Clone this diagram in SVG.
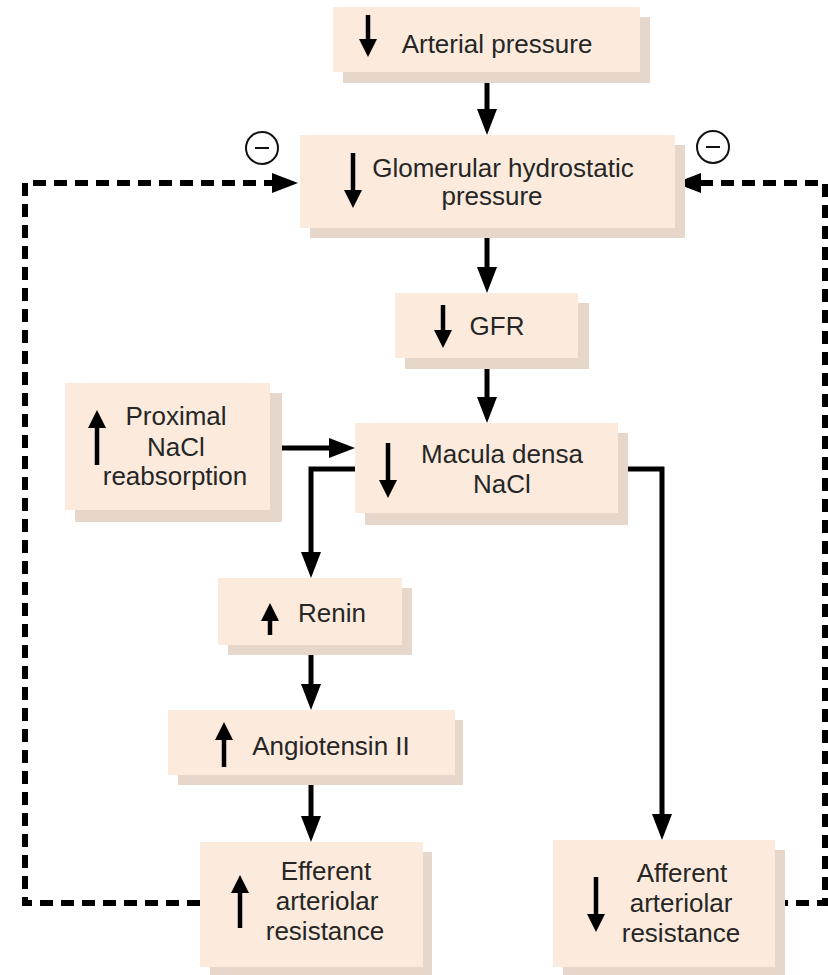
<svg xmlns="http://www.w3.org/2000/svg" width="828" height="975" viewBox="0 0 828 975">
<style>
.box{fill:#fcebdc}
.sh{fill:#e6d7ca}
.t{font-family:"Liberation Sans",Arial,sans-serif;font-size:26px;fill:#262626;text-anchor:middle}
.c{fill:none;stroke:#000;stroke-width:5;stroke-linejoin:miter}
.d{fill:none;stroke:#000;stroke-width:6;stroke-dasharray:13 8}
.ind{fill:none;stroke:#000;stroke-width:4.5}
.circ{fill:#fff;stroke:#111;stroke-width:2}
</style>
<defs>
<marker id="ah" markerUnits="userSpaceOnUse" viewBox="0 0 26 20" refX="18" refY="10" markerWidth="26" markerHeight="20" orient="auto">
<path d="M0,0 L26,10 L0,20 z" fill="#000"/>
</marker>
<marker id="ai" markerUnits="userSpaceOnUse" viewBox="0 0 18 18" refX="12" refY="9" markerWidth="18" markerHeight="18" orient="auto">
<path d="M0,0 L18,9 L0,18 z" fill="#000"/>
</marker>
</defs>
<rect width="828" height="975" fill="#fff"/>

<g id="connectors">
<path class="c" d="M487,72 V127" marker-end="url(#ah)"/>
<path class="c" d="M487,228 V285" marker-end="url(#ah)"/>
<path class="c" d="M487,358 V415" marker-end="url(#ah)"/>
<path class="c" d="M270,448 H347" marker-end="url(#ah)"/>
<path class="c" d="M355,469 H311 V570" marker-end="url(#ah)"/>
<path class="c" d="M311,645 V702" marker-end="url(#ah)"/>
<path class="c" d="M311,775 V834" marker-end="url(#ah)"/>
<path class="c" d="M618,469 H662 V832" marker-end="url(#ah)"/>
<path class="d" d="M200,903 H25 V183 H290" marker-end="url(#ah)"/>
<path class="d" d="M775,903 H825 V183 H683" marker-end="url(#ah)"/>
</g>

<g id="minus-left">
<circle class="circ" cx="262" cy="148" r="16"/>
<line x1="255" y1="148" x2="269" y2="148" stroke="#111" stroke-width="2"/>
</g>
<g id="minus-right">
<circle class="circ" cx="713" cy="147" r="16"/>
<line x1="706" y1="147" x2="720" y2="147" stroke="#111" stroke-width="2"/>
</g>

<g id="arterial">
<rect class="sh" x="343" y="17" width="307" height="66"/>
<rect class="box" x="333" y="7" width="307" height="65"/>
<path class="ind" d="M368,15 V51" marker-end="url(#ai)"/>
<text class="t" x="497" y="53">Arterial pressure</text>
</g>

<g id="glomerular">
<rect class="sh" x="310" y="145" width="375" height="93"/>
<rect class="box" x="300" y="135" width="375" height="93"/>
<path class="ind" d="M353,153 V202" marker-end="url(#ai)"/>
<text class="t" x="503" y="177">Glomerular hydrostatic</text>
<text class="t" x="492" y="205">pressure</text>
</g>

<g id="gfr">
<rect class="sh" x="405" y="303" width="184" height="66"/>
<rect class="box" x="395" y="293" width="183" height="65"/>
<path class="ind" d="M443,305 V342" marker-end="url(#ai)"/>
<text class="t" x="497" y="335">GFR</text>
</g>

<g id="proximal">
<rect class="sh" x="75" y="393" width="207" height="129"/>
<rect class="box" x="65" y="383" width="205" height="127"/>
<path class="ind" d="M97,465 V416" marker-end="url(#ai)"/>
<text class="t" x="176" y="425">Proximal</text>
<text class="t" x="176" y="456">NaCl</text>
<text class="t" x="175" y="485">reabsorption</text>
</g>

<g id="macula">
<rect class="sh" x="365" y="433" width="263" height="92"/>
<rect class="box" x="355" y="423" width="263" height="90"/>
<path class="ind" d="M388,443 V492" marker-end="url(#ai)"/>
<text class="t" x="502" y="463">Macula densa</text>
<text class="t" x="502" y="493">NaCl</text>
</g>

<g id="renin">
<rect class="sh" x="228" y="588" width="184" height="67"/>
<rect class="box" x="218" y="578" width="184" height="67"/>
<path class="ind" d="M270,635 V609" marker-end="url(#ai)"/>
<text class="t" x="332" y="622">Renin</text>
</g>

<g id="angiotensin">
<rect class="sh" x="178" y="720" width="285" height="65"/>
<rect class="box" x="168" y="710" width="287" height="65"/>
<path class="ind" d="M224,767 V728" marker-end="url(#ai)"/>
<text class="t" x="331" y="755">Angiotensin II</text>
</g>

<g id="efferent">
<rect class="sh" x="210" y="852" width="222" height="125"/>
<rect class="box" x="200" y="842" width="223" height="125"/>
<path class="ind" d="M240,928 V881" marker-end="url(#ai)"/>
<text class="t" x="326" y="880">Efferent</text>
<text class="t" x="327" y="910">arteriolar</text>
<text class="t" x="325" y="940">resistance</text>
</g>

<g id="afferent">
<rect class="sh" x="563" y="850" width="222" height="127"/>
<rect class="box" x="553" y="840" width="222" height="127"/>
<path class="ind" d="M596,877 V926" marker-end="url(#ai)"/>
<text class="t" x="682" y="882">Afferent</text>
<text class="t" x="681" y="912">arteriolar</text>
<text class="t" x="681" y="942">resistance</text>
</g>
</svg>
